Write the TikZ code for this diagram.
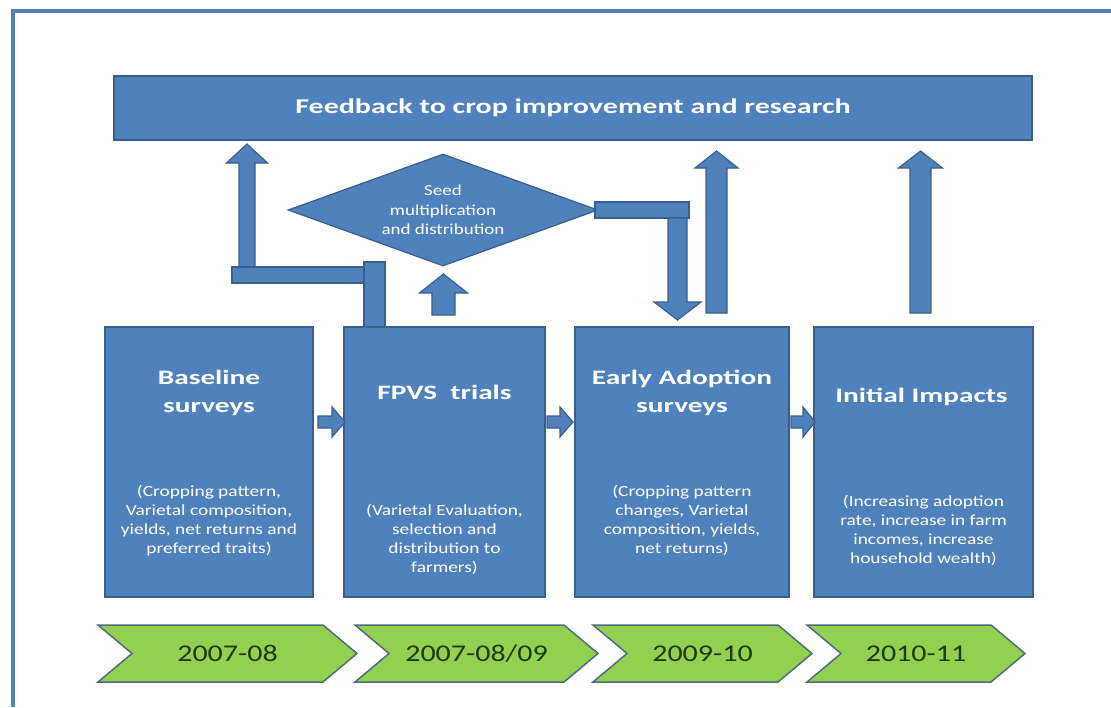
\documentclass[tikz,border=0pt]{standalone}
\usepackage{fontspec}
\setmainfont[FakeStretch=1.25,BoldFeatures={FakeStretch=1.43}]{Carlito}
\usepackage{tikz}
\usetikzlibrary{shapes.geometric}
\definecolor{boxblue}{HTML}{4F81BD}
\definecolor{boxline}{HTML}{3A5F8C}
\definecolor{yeargreen}{HTML}{92D050}
\definecolor{yearline}{HTML}{4E6B84}
\definecolor{yeartext}{HTML}{1F3A12}
\definecolor{frameblue}{HTML}{4F81BD}

% block arrows: centre, start, head base, tip, half shaft, half head
\newcommand{\vblock}[6]{%
  \filldraw[blockarrow] ({#1-#5},#2) -- ({#1-#5},#3) -- ({#1-#6},#3) -- (#1,#4)
    -- ({#1+#6},#3) -- ({#1+#5},#3) -- ({#1+#5},#2) -- cycle;}
\newcommand{\hblock}[6]{%
  \filldraw[blockarrow] (#2,{#1-#5}) -- (#3,{#1-#5}) -- (#3,{#1-#6}) -- (#4,#1)
    -- (#3,{#1+#6}) -- (#3,{#1+#5}) -- (#2,{#1+#5}) -- cycle;}

\begin{document}
\begin{tikzpicture}[x=1pt,y=-1pt,
  blockarrow/.style={fill=boxblue,draw=boxline,line width=1.2pt,line join=miter},
  stage/.style={rectangle,fill=boxblue,draw=boxline,line width=1.5pt,inner sep=0pt},
  stagetitle/.style={text=white,align=center,font=\fontsize{20.5}{28}\selectfont\bfseries},
  stagebody/.style={text=white,align=center,font=\fontsize{15.5}{19}\selectfont},
  year/.style={text=yeartext,font=\fontsize{24}{28}\selectfont}]
  \useasboundingbox (0,0) rectangle (1111,707);

  % page frame (left and top edges only)
  \draw[frameblue,line width=4pt] (13,707) -- (13,11) -- (1111,11);

  % Feedback bar across the top
  \node[stage,minimum width=918pt,minimum height=64pt,text=white,
    font=\fontsize{21}{24}\selectfont\bfseries] (feedback) at (573,108)
    {Feedback to crop improvement and research};

  % Seed multiplication diamond
  \node[diamond,fill=boxblue,draw=boxline,line width=1.2pt,shape aspect=2.8,inner sep=0pt,
    minimum width=310pt,minimum height=112pt,align=center,text=white,
    font=\fontsize{15.2}{19.5}\selectfont] (seed) at (443,210)
    {Seed\\multiplication\\and distribution};

  % feedback arrows from the stages
  \vblock{247}{283}{163}{144}{8}{20.5}
  \filldraw[blockarrow] (232,267) rectangle (365,283);
  \filldraw[blockarrow] (364,262) rectangle (385,327);
  \vblock{443.5}{315}{293}{274}{11.5}{24}
  \filldraw[blockarrow] (595,202) rectangle (689,218);
  \vblock{677.5}{218}{302}{320}{9.5}{23.5}
  \vblock{716.5}{313}{168}{151}{10.5}{21.5}
  \vblock{920.5}{313}{168}{151}{10.5}{22}

  % the four stages
  \node[stage,minimum width=208pt,minimum height=270pt] (baseline) at (209,462) {};
  \node[stage,minimum width=201pt,minimum height=270pt] (fpvs) at (444.5,462) {};
  \node[stage,minimum width=214pt,minimum height=270pt] (early) at (682,462) {};
  \node[stage,minimum width=219pt,minimum height=270pt] (impacts) at (923.5,462) {};

  \node[stagetitle] (baselinet) at (209,393) {Baseline\\surveys};
  \node[stagebody] (baselineb) at (209,521)
    {(Cropping pattern,\\Varietal composition,\\yields, net returns and\\preferred traits)};
  \node[stagetitle] (fpvst) at (444.5,392) {FPVS\ \ trials};
  \node[stagebody] (fpvsb) at (444.5,539)
    {(Varietal Evaluation,\\selection and\\distribution to\\farmers)};
  \node[stagetitle] (earlyt) at (682,393) {Early Adoption\\surveys};
  \node[stagebody] (earlyb) at (682,520)
    {(Cropping pattern\\changes, Varietal\\composition, yields,\\net returns)};
  \node[stagetitle] (impactst) at (921.5,397) {Initial Impacts};
  \node[stagebody] (impactsb) at (923.5,530)
    {(Increasing adoption\\rate, increase in farm\\incomes, increase\\household wealth)};

  % small arrows between stages
  \hblock{422}{318}{332}{345}{6}{15}
  \hblock{422}{547}{560}{573}{6}{15}
  \hblock{422}{791}{803}{815}{6}{15}

  % timeline chevrons
  \foreach \l/\t/\yr [count=\i] in {98/357/2007-08, 355/598/{2007-08/09},
      593/812/2009-10, 807/1025/2010-11} {
    \filldraw[fill=yeargreen,draw=yearline,line width=1.5pt,line join=miter]
      (\l,625) -- ({\t-34},625) -- (\t,653.5) -- ({\t-34},682) -- (\l,682)
      -- ({\l+34},653.5) -- cycle;
    \node[year] (yr\i) at ({(\l+\t)/2},653.5) {\yr};
  }
\end{tikzpicture}
\end{document}
